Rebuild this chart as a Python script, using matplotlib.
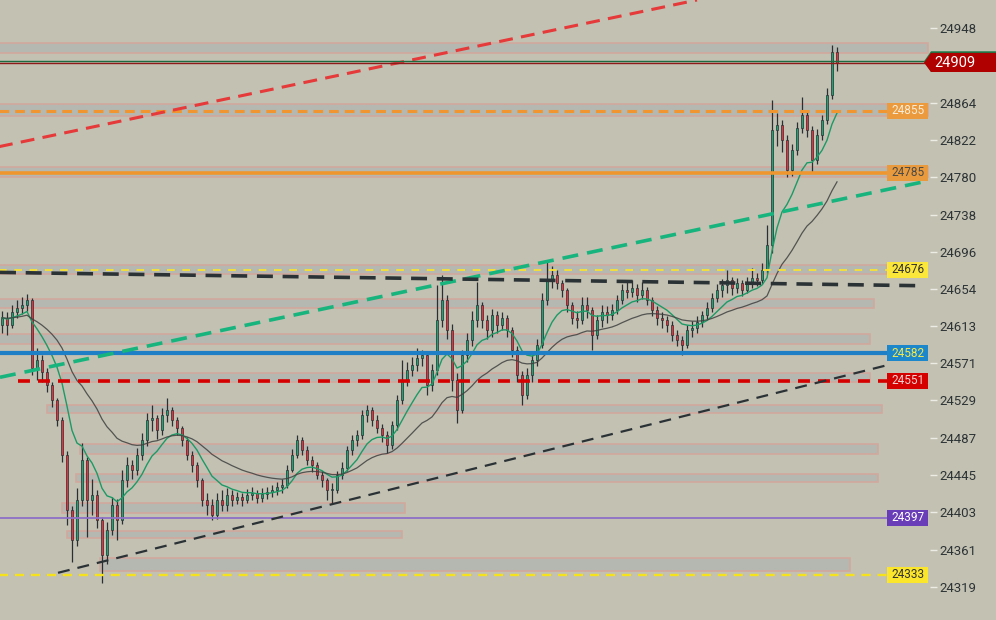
import numpy as np
import pandas as pd
import matplotlib
matplotlib.use("Agg")
import matplotlib.pyplot as plt
import matplotlib.transforms as mtransforms
from matplotlib.patches import Rectangle, Polygon

plt.rcParams['font.family'] = ['Roboto', 'DejaVu Sans']
plt.rcParams['lines.scale_dashes'] = False

# --- candles (open of each bar = previous close) ---
first_open = 24614
close = [
    24622, 24614, 24628, 24633, 24636, 24642, 24565, 24574, 24561, 24546,
    24529, 24507, 24468, 24406, 24372, 24417, 24462, 24417, 24423, 24394,
    24355, 24383, 24411, 24394, 24439, 24456, 24451, 24468, 24484, 24507,
    24509, 24496, 24513, 24518, 24507, 24498, 24484, 24468, 24456, 24439,
    24417, 24411, 24400, 24417, 24411, 24423, 24417, 24420, 24417, 24423,
    24425, 24419, 24424, 24426, 24428, 24432, 24434, 24451, 24468, 24484,
    24473, 24462, 24456, 24445, 24439, 24428, 24428, 24445, 24453, 24473,
    24484, 24490, 24513, 24518, 24507, 24498, 24490, 24479, 24501, 24529,
    24552, 24563, 24569, 24577, 24580, 24546, 24563, 24619, 24642, 24608,
    24552, 24518, 24580, 24597, 24619, 24636, 24619, 24608, 24625, 24614,
    24622, 24608, 24586, 24558, 24535, 24558, 24574, 24591, 24642, 24664,
    24670, 24661, 24653, 24636, 24622, 24619, 24636, 24631, 24603, 24619,
    24628, 24625, 24631, 24642, 24653, 24651, 24655, 24648, 24653, 24642,
    24631, 24622, 24619, 24614, 24603, 24597, 24591, 24608, 24610, 24617,
    24625, 24633, 24644, 24653, 24659, 24664, 24655, 24661, 24653, 24662,
    24667, 24664, 24676, 24704, 24833, 24839, 24822, 24788, 24811, 24836,
    24850, 24833, 24800, 24828, 24845, 24873, 24921, 24909,
]
high = [
    24630, 24628, 24636, 24642, 24645, 24649, 24644, 24588, 24580, 24565,
    24550, 24532, 24510, 24472, 24410, 24430, 24481, 24465, 24440, 24428,
    24398, 24392, 24420, 24418, 24451, 24465, 24462, 24475, 24492, 24515,
    24524, 24512, 24520, 24532, 24522, 24510, 24500, 24488, 24472, 24460,
    24442, 24425, 24418, 24425, 24428, 24430, 24428, 24426, 24425, 24429,
    24431, 24428, 24430, 24432, 24434, 24437, 24440, 24456, 24474, 24490,
    24488, 24478, 24466, 24460, 24450, 24442, 24436, 24450, 24460, 24478,
    24490, 24496, 24518, 24524, 24522, 24512, 24502, 24495, 24506, 24535,
    24574, 24572, 24578, 24588, 24586, 24584, 24570, 24659, 24670, 24648,
    24615, 24560, 24586, 24605, 24630, 24662, 24640, 24625, 24632, 24630,
    24628, 24625, 24612, 24590, 24562, 24565, 24580, 24598, 24650, 24687,
    24680, 24676, 24665, 24656, 24640, 24630, 24645, 24645, 24634, 24625,
    24636, 24635, 24638, 24648, 24660, 24662, 24664, 24660, 24662, 24657,
    24645, 24635, 24628, 24624, 24618, 24608, 24602, 24614, 24618, 24624,
    24630, 24640, 24650, 24660, 24666, 24676, 24668, 24667, 24665, 24668,
    24678, 24672, 24684, 24726, 24867, 24852, 24845, 24828, 24818, 24842,
    24870, 24855, 24838, 24834, 24850, 24880, 24929, 24927,
]
low = [
    24605, 24603, 24610, 24622, 24626, 24630, 24558, 24552, 24550, 24538,
    24522, 24500, 24460, 24389, 24347, 24365, 24410, 24375, 24400, 24385,
    24324, 24345, 24378, 24372, 24390, 24432, 24440, 24445, 24462, 24478,
    24495, 24485, 24490, 24505, 24500, 24490, 24478, 24462, 24448, 24432,
    24410, 24400, 24394, 24396, 24404, 24405, 24410, 24412, 24410, 24413,
    24417, 24414, 24415, 24418, 24420, 24422, 24425, 24430, 24448, 24464,
    24468, 24456, 24448, 24440, 24432, 24417, 24414, 24425, 24440, 24450,
    24468, 24478, 24486, 24505, 24500, 24492, 24482, 24470, 24474, 24496,
    24525, 24545, 24556, 24562, 24568, 24535, 24540, 24558, 24612, 24598,
    24540, 24504, 24515, 24572, 24590, 24612, 24610, 24598, 24600, 24605,
    24608, 24600, 24578, 24550, 24524, 24530, 24550, 24568, 24588, 24636,
    24655, 24654, 24645, 24628, 24615, 24610, 24615, 24622, 24586, 24598,
    24612, 24616, 24620, 24626, 24638, 24644, 24645, 24640, 24643, 24636,
    24624, 24614, 24610, 24606, 24596, 24590, 24580, 24588, 24600, 24605,
    24612, 24620, 24628, 24640, 24645, 24650, 24648, 24650, 24646, 24650,
    24655, 24658, 24660, 24672, 24695, 24815, 24808, 24780, 24782, 24805,
    24830, 24825, 24786, 24795, 24822, 24840, 24868, 24900,
]

# 24906 sits under the last-price tag, so it is left out
y_ticks = [24948, 24864, 24822, 24780, 24738, 24696, 24654, 24613,
           24571, 24529, 24487, 24445, 24403, 24361, 24319]

# --- supply / demand zones: top, bottom, first bar, last bar ---
zone_top = [24931, 24862, 24792, 24681, 24643, 24604, 24560, 24524, 24480, 24446, 24413, 24382, 24352]
zone_bot = [24920, 24849, 24780, 24671, 24633, 24592, 24550, 24515, 24469, 24437, 24402, 24374, 24337]
zone_x0 = [-1, -1, -1, -1, -1, -1, 12, 9, 15.6, 14.8, 12, 13, 19.6]
zone_x1 = [185.2, 185.2, 185.2, 177, 174.4, 173.6, 173.6, 176, 175.2, 175.2, 80.6, 80, 169.6]

# --- horizontal levels ---
level_price = [24855, 24785, 24676, 24582, 24551, 24397, 24333]
level_start = [-1, -1, -1, -1, 3.2, -1, -1]
level_color = ['#f0952f', '#ef962f', '#f3df3a', '#1f7fc6', '#d50000', '#8d70c6', '#f6e21c']
level_width = [2.2, 2.6, 1.4, 3.0, 2.6, 1.3, 1.7]
level_dash = [(7, 4.3), None, (5.5, 5.5), None, (8.6, 5.8), None, (6.5, 5.0)]
label_face = ['#eb9b3e', '#e99a3d', '#fbe63a', '#1d87cc', '#d50000', '#6a3db8', '#fbe62c']
label_text = ['#f7ecd9', '#4a4a48', '#333333', '#f5e94a', '#f2d5d5', '#ffffff', '#333333']

# --- trend lines: (x0, p0, x1, p1) ---
trend_red = (-1, 24814, 139, 24979.5)
trend_green = (-0.4, 24555, 185.2, 24776)
trend_flat = (-0.4, 24673, 184, 24658)
trend_low = (11.2, 24335, 176.6, 24568)

last_price = 24909

bg = '#c3c1b2'
wick = '#2a2f34'

n = len(close)
idx = np.arange(n)
c = np.array(close, dtype=float)
o = np.r_[first_open, c[:-1]]
h = np.array(high, dtype=float)
l = np.array(low, dtype=float)
up = c >= o

ema_fast = pd.Series(c).ewm(span=10, adjust=False).mean()
ema_slow = pd.Series(c).ewm(span=28, adjust=False).mean()

fig = plt.figure(figsize=(9.96, 6.2), dpi=100)
fig.patch.set_facecolor(bg)
ax = fig.add_axes([0, 0, 930 / 996, 1])
ax.set_facecolor(bg)
ax.set_xlim(-0.4, 185.6)
ax.set_ylim(24281.9, 24979.5)

# zones
for t, b, x0, x1 in zip(zone_top, zone_bot, zone_x0, zone_x1):
    ax.add_patch(Rectangle((x0, b), x1 - x0, t - b, facecolor='#b5b8b0',
                           edgecolor='#d2a89d', lw=1.2, zorder=1))

# candles
ax.vlines(idx, l, h, color=wick, lw=0.9, zorder=4)
body_bot = np.minimum(o, c)
body_h = np.maximum(np.abs(c - o), 0.8)
ax.bar(idx, body_h, bottom=body_bot, width=0.55,
       color=np.where(up, '#1fa374', '#e2333f'), edgecolor=wick, lw=0.5, zorder=5)

# moving averages
ax.plot(idx, ema_fast, color='#1c9a66', lw=1.0, zorder=6)
ax.plot(idx, ema_slow, color='#3f4040', lw=0.9, alpha=0.85, zorder=6)

# horizontal levels
for p, x0, col, w, d in zip(level_price, level_start, level_color, level_width, level_dash):
    ln, = ax.plot([x0, 177], [p, p], color=col, lw=w, zorder=7, solid_capstyle='butt')
    if d is not None:
        ln.set_dashes(d)

# trend lines
def trend(seg, **kw):
    x0, p0, x1, p1 = seg
    ln, = ax.plot([x0, x1], [p0, p1], zorder=7, **kw)
    return ln

trend(trend_red, color='#e5393a', lw=2.2, dashes=(10, 6))
trend(trend_green, color='#17b47e', lw=2.6, dashes=(11.5, 6.5))
trend(trend_flat, color='#2b3236', lw=2.6, dashes=(11.5, 7))
trend(trend_low, color='#2b3236', lw=1.6, dashes=(8.6, 5.8))

# current price lines
ax.axhline(last_price + 2, color='#1d6b40', lw=1.0, zorder=7)
ax.axhline(last_price, color='#8f1a1a', lw=1.0, zorder=7)

# level labels
trans = mtransforms.blended_transform_factory(ax.transAxes, ax.transData)
for p, fc, tc in zip(level_price, label_face, label_text):
    ax.add_patch(Rectangle((887 / 930, p - 9), 41 / 930, 18, transform=trans,
                           facecolor=fc, edgecolor='none', zorder=9, clip_on=False))
    ax.text(907.5 / 930, p, f"{p}", transform=trans, ha='center', va='center',
            fontsize=8.5, color=tc, zorder=10, clip_on=False)

# last price tag
tag_hi, tag_lo = last_price + 11, last_price - 10.5
ax.add_patch(Polygon([(924 / 930, last_price + 1.5), (931 / 930, tag_hi + 1.8),
                      (996 / 930, tag_hi + 1.8), (996 / 930, tag_lo), (931 / 930, tag_lo)],
                     closed=True, transform=trans, facecolor='#1b7a48', edgecolor='none',
                     zorder=11, clip_on=False))
ax.add_patch(Polygon([(924 / 930, last_price), (931 / 930, tag_hi),
                      (996 / 930, tag_hi), (996 / 930, tag_lo), (931 / 930, tag_lo)],
                     closed=True, transform=trans, facecolor='#b00000', edgecolor='none',
                     zorder=12, clip_on=False))
ax.text(955 / 930, last_price - 0.5, f"{last_price}", transform=trans, ha='center',
        va='center', fontsize=10.5, color='#ffffff', zorder=13, clip_on=False)

# axis
ax.yaxis.tick_right()
ax.set_yticks(y_ticks)
ax.set_yticklabels([str(v) for v in y_ticks])
ax.tick_params(axis='y', direction='out', length=5, width=1, color='#ecebe4',
               pad=2, labelsize=9.5, labelcolor='#2d3436')
ax.set_xticks([])
for s in ax.spines.values():
    s.set_visible(False)

fig.savefig('out.png', dpi=100, facecolor=bg)
